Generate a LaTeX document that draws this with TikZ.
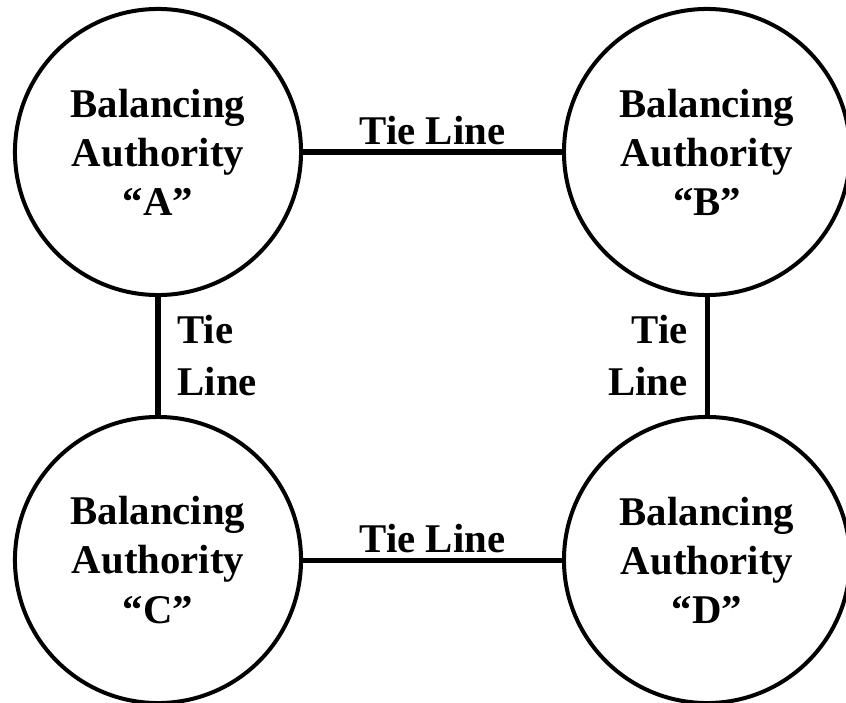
\documentclass[tikz,border=0pt]{standalone}
\usepackage{fontspec}
\setmainfont{Liberation Serif}
\usepackage{tikz}
\usetikzlibrary{positioning}

\begin{document}
\begin{tikzpicture}[x=0.025cm,y=-0.025cm,
        authority/.style={draw,circle,line width=2.85pt,minimum size=7.15cm,inner sep=0pt,
            align=center,font=\fontsize{29}{34.9}\selectfont\bfseries},
        tieline/.style={line width=3.56pt},
        tielabel/.style={font=\fontsize{29}{37}\selectfont\bfseries,inner sep=0.125cm}]
        \useasboundingbox (0,0) rectangle (846,702);
        % the four balancing authorities
        \node[authority] (A) at (158,152) {Balancing\\Authority\\“A”};
        \node[authority] (B) at (707,152) {Balancing\\Authority\\“B”};
        \node[authority] (C) at (158,560) {Balancing\\Authority\\“C”};
        \node[authority] (D) at (707,560) {Balancing\\Authority\\“D”};
        % tie lines
        \draw[tieline] (A) -- node[above,tielabel] (tAB) {Tie Line} (B);
        \draw[tieline] (A) -- node[right,align=left,tielabel,inner xsep=0.425cm] (tAC) {Tie\\Line} (C);
        \draw[tieline] (B) -- node[left,align=right,tielabel,inner xsep=0.425cm] (tBD) {Tie\\Line} (D);
        \draw[tieline] (C) -- node[above,tielabel] (tCD) {Tie Line} (D);
    \end{tikzpicture}
\end{document}
